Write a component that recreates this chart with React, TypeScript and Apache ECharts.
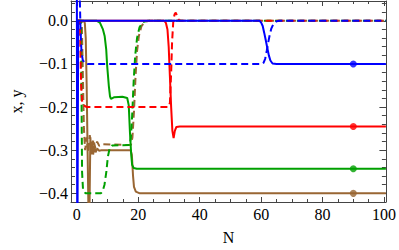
import React, { useEffect, useRef } from "react";
import * as echarts from "echarts";

type P = [number, number];

// x (solid) and y (dashed) trajectories against N
const blueX: P[] = [[0, 0.1], [0.15, -0.6], [0.45, 0], [59.5, 0], [60, -0.004], [60.5, -0.012], [61, -0.028], [61.5, -0.045], [62, -0.063], [62.5, -0.08], [63, -0.092], [63.7, -0.099], [65, -0.1], [100.6, -0.1]];
const blueY: P[] = [[0, 0.2], [0.8, 0.1], [1.2, -0.02], [1.5, -0.07], [1.9, -0.09], [2.5, -0.098], [3.5, -0.1], [60.3, -0.1], [60.8, -0.097], [61.3, -0.088], [61.8, -0.07], [62.3, -0.05], [62.8, -0.032], [63.3, -0.018], [64, -0.007], [65, -0.001], [66, 0], [100.6, 0]];
const redX: P[] = [[0, 0], [28.5, 0], [29, -0.005], [29.5, -0.02], [29.9, -0.06], [30.3, -0.13], [30.7, -0.2], [31.1, -0.255], [31.5, -0.272], [31.9, -0.255], [32.4, -0.246], [33.5, -0.245], [100.6, -0.245]];
const redY: P[] = [[0, 0], [1.0, 0], [1.2, -0.08], [1.4, -0.15], [1.7, -0.185], [2.3, -0.196], [3.2, -0.2], [29.8, -0.2], [30.3, -0.19], [30.7, -0.12], [31.0, -0.05], [31.4, 0.0], [31.8, 0.015], [32.2, 0.019], [32.6, 0.012], [33.2, 0.002], [34, 0], [100.6, 0]];
const greenX: P[] = [[0, 0], [6.5, 0], [7.5, -0.004], [8.5, -0.02], [9.05, -0.035], [9.56, -0.066], [9.87, -0.104], [10.4, -0.15], [10.8, -0.175], [11.1, -0.181], [11.6, -0.179], [12.2, -0.177], [14.8, -0.176], [16.4, -0.179], [16.9, -0.196], [17.3, -0.26], [17.7, -0.31], [18.0, -0.334], [18.5, -0.341], [19.5, -0.343], [100.6, -0.343]];
const greenY: P[] = [[0, 0], [1.3, 0], [1.5, -0.15], [1.7, -0.35], [2.0, -0.39], [2.8, -0.4], [7.8, -0.4], [8.4, -0.395], [9, -0.38], [9.6, -0.35], [10.1, -0.315], [10.7, -0.295], [11.5, -0.289], [17.2, -0.288], [17.6, -0.27], [18.0, -0.22], [18.5, -0.14], [19.0, -0.08], [19.6, -0.04], [20.4, -0.015], [21.5, -0.003], [23, 0], [100.6, 0]];
const brownX: P[] = [[0, 0], [2.2, 0], [2.6, -0.005], [2.9, -0.04], [3.2, -0.15], [3.5, -0.3], [3.8, -0.45], [4.1, -0.45], [4.4, -0.27], [4.7, -0.31], [5.0, -0.28], [5.3, -0.31], [5.7, -0.29], [6.1, -0.305], [6.6, -0.296], [7.2, -0.301], [8, -0.3], [17.5, -0.3], [17.9, -0.31], [18.3, -0.36], [18.6, -0.385], [19.2, -0.396], [20.5, -0.4], [100.6, -0.4]];
const brownY: P[] = [[0, 0], [1.6, 0], [1.9, -0.1], [2.3, -0.25], [2.7, -0.3], [3.2, -0.27], [3.7, -0.305], [4.2, -0.265], [4.8, -0.3], [5.4, -0.275], [6.0, -0.295], [6.6, -0.28], [7.3, -0.29], [8.2, -0.286], [17.6, -0.288], [18.1, -0.27], [18.6, -0.21], [19.1, -0.13], [19.6, -0.07], [20.2, -0.035], [21, -0.013], [22, -0.003], [23.5, 0], [100.6, 0]];

const markerN = 90;
const xMajor = [0, 20, 40, 60, 80, 100];
const xMinor = [0, 5, 10, 15, 20, 25, 30, 35, 40, 45, 50, 55, 60, 65, 70, 75, 80, 85, 90, 95, 100];
const yMajor = [-0.4, -0.3, -0.2, -0.1, 0];
const yMinor = [-0.42, -0.4, -0.38, -0.36, -0.34, -0.32, -0.3, -0.28, -0.26, -0.24, -0.22, -0.2, -0.18, -0.16, -0.14, -0.12, -0.1, -0.08, -0.06, -0.04, -0.02, 0, 0.02, 0.04];

const COLORS = { blue: "#0000ff", red: "#ff0000", green: "#00a000", brown: "#996633" };
const FONT = "'Liberation Serif', 'Times New Roman', serif";
const FRAME = "#444";

export default function App() {
  const ref = useRef<HTMLDivElement>(null);
  useEffect(() => {
    if (!ref.current) return;
    const chart = echarts.init(ref.current, null, { renderer: "svg" });
    const xRange = { min: -1.9, max: 100.6 };
    const yRange = { min: -0.42, max: 0.046 };
    const fmtY = (v: number) => (Math.abs(v) < 1e-9 ? "0.0" : "\u2212" + Math.abs(v).toFixed(1));
    const mkX = (pos: string, major: boolean, labels: boolean, name?: string) => ({
      type: "value", position: pos, ...xRange, gridIndex: 0,
      axisLine: { show: major, onZero: false, lineStyle: { color: FRAME, width: 1 } },
      axisTick: { show: true, inside: true, length: major ? 5 : 3, customValues: major ? xMajor : xMinor, lineStyle: { color: FRAME } },
      axisLabel: labels ? { show: true, customValues: xMajor, color: "#000", fontFamily: FONT, fontSize: 16, margin: 4 } : { show: false },
      splitLine: { show: false },
      name: name, nameLocation: "middle", nameGap: 27,
      nameTextStyle: { color: "#000", fontFamily: FONT, fontSize: 16 },
    });
    const mkY = (pos: string, major: boolean, labels: boolean, name?: string) => ({
      type: "value", position: pos, ...yRange, gridIndex: 0,
      axisLine: { show: major, onZero: false, lineStyle: { color: FRAME, width: 1 } },
      axisTick: { show: true, inside: true, length: major ? 6.5 : 4, customValues: major ? yMajor : yMinor, lineStyle: { color: FRAME } },
      axisLabel: labels ? { show: true, customValues: yMajor, formatter: fmtY, color: "#000", fontFamily: FONT, fontSize: 16, margin: 3 } : { show: false },
      splitLine: { show: false },
      name: name, nameLocation: "middle", nameGap: 47, nameRotate: 90,
      nameTextStyle: { color: "#000", fontFamily: FONT, fontSize: 16 },
    });
    const line = (data: P[], color: string, dashed: boolean) => ({
      type: "line", data, xAxisIndex: 0, yAxisIndex: 0, showSymbol: false, symbol: "none",
      lineStyle: { color, width: 2, type: dashed ? [7, 4] : "solid" },
      silent: true, clip: true, z: 2,
    });
    const dot = (data: P[], color: string) => ({
      type: "scatter", data: [[markerN, data[data.length - 1][1]]], xAxisIndex: 0, yAxisIndex: 0,
      symbol: "circle", symbolSize: 7, itemStyle: { color }, z: 5, silent: true,
    });
    chart.setOption({
      animation: false,
      backgroundColor: "#fff",
      grid: { left: 62, top: 1, width: 325, height: 203, containLabel: false },
      xAxis: [mkX("bottom", true, true, "N"), mkX("bottom", false, false), mkX("top", true, false), mkX("top", false, false)],
      yAxis: [mkY("left", true, true, "x, y"), mkY("left", false, false), mkY("right", true, false), mkY("right", false, false)],
      series: [
        line(brownX, COLORS.brown, false), line(brownY, COLORS.brown, true),
        line(greenX, COLORS.green, false), line(greenY, COLORS.green, true),
        line(redX, COLORS.red, false), line(redY, COLORS.red, true),
        line(blueX, COLORS.blue, false), line(blueY, COLORS.blue, true),
        dot(brownX, COLORS.brown), dot(greenX, COLORS.green), dot(redX, COLORS.red), dot(blueX, COLORS.blue),
      ],
    });
    return () => chart.dispose();
  }, []);
  return <div ref={ref} style={{ position: "absolute", left: 0, top: 0, width: 399, height: 250, background: "#fff" }} />;
}
